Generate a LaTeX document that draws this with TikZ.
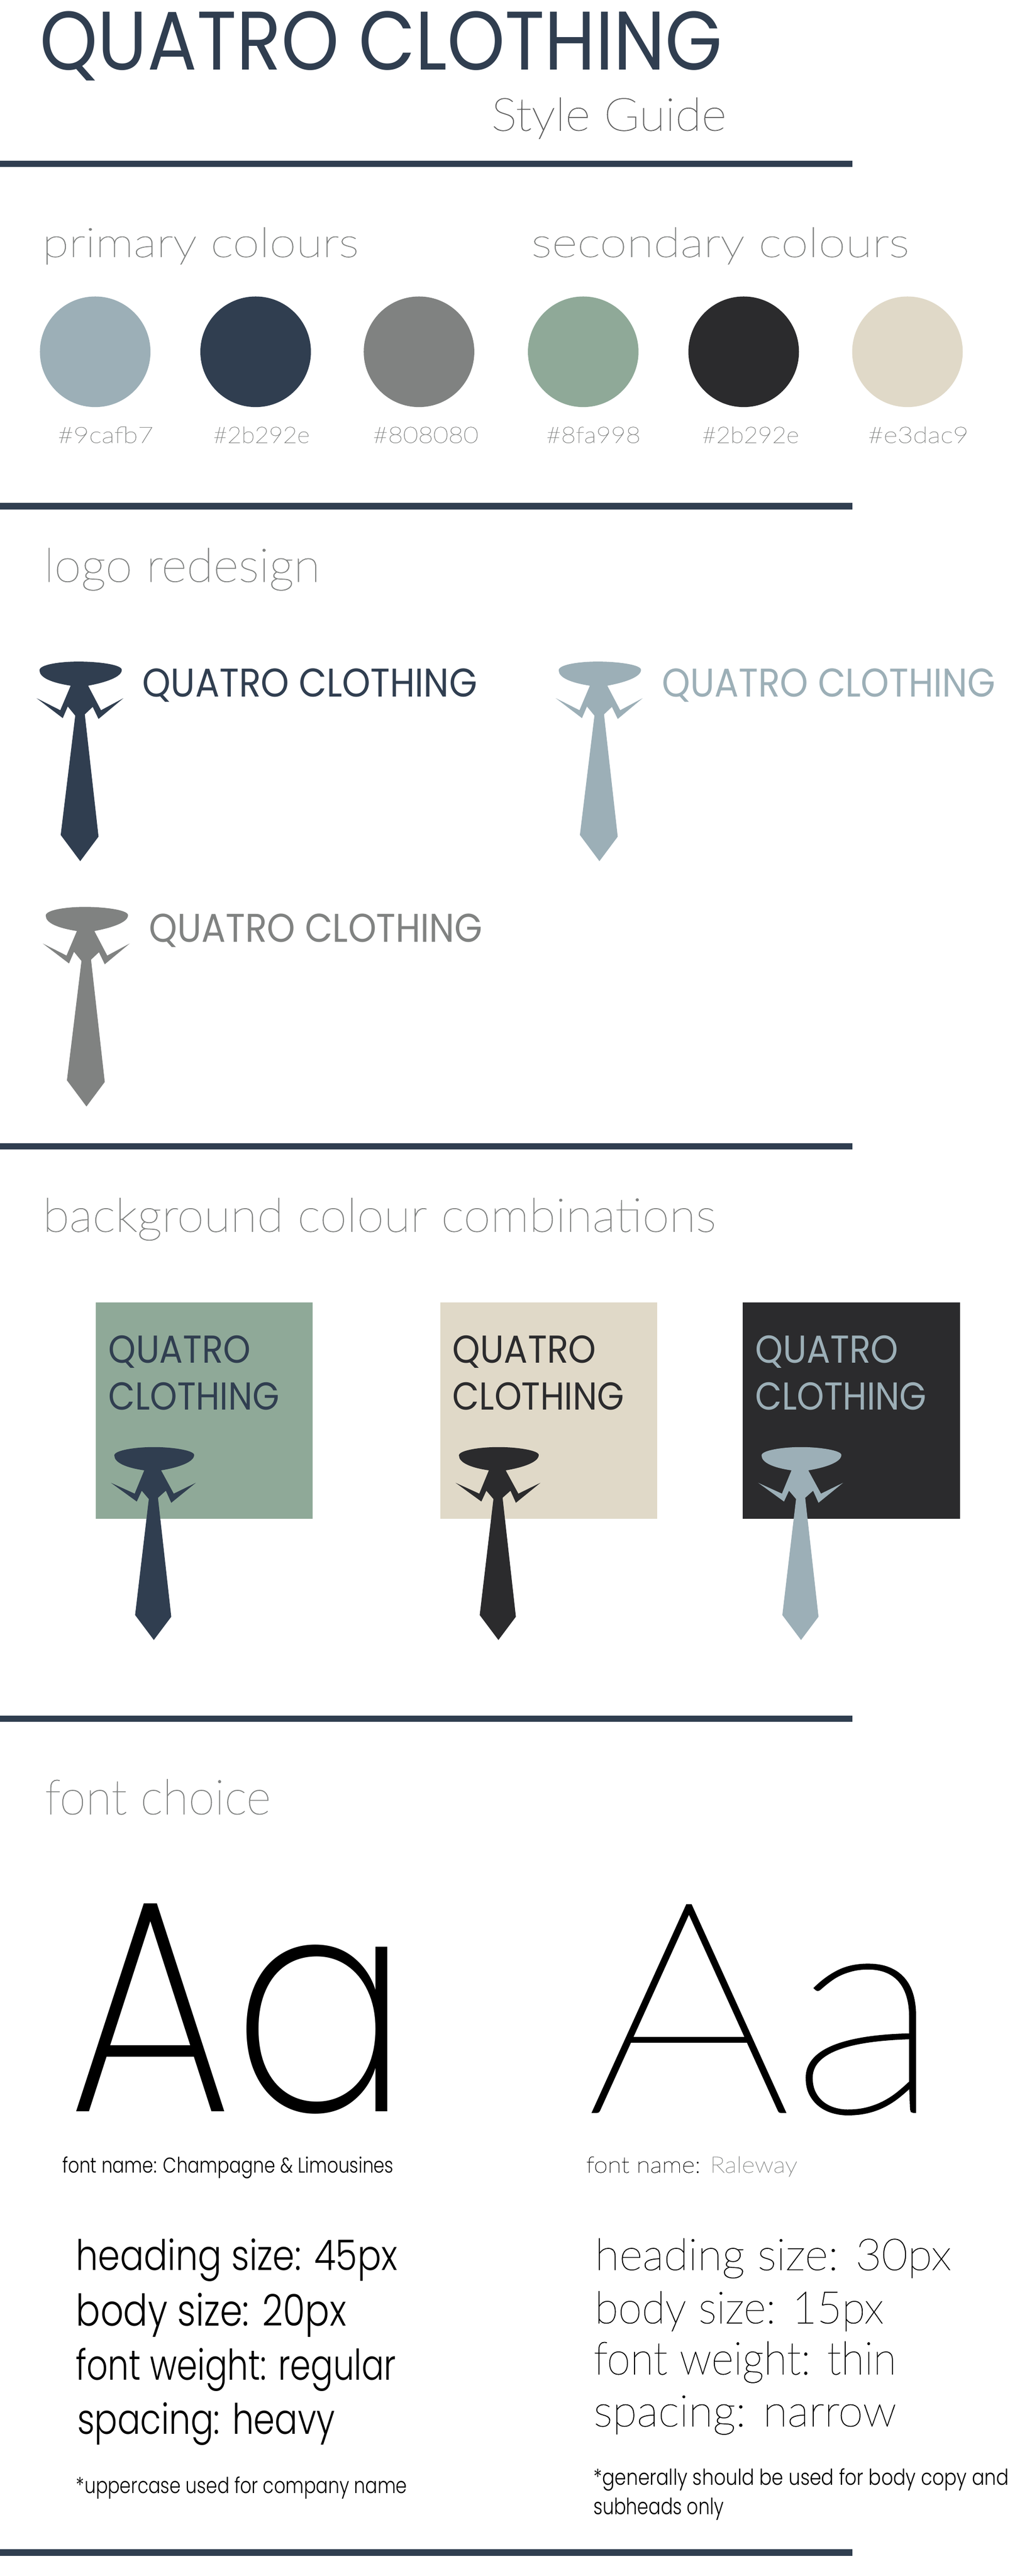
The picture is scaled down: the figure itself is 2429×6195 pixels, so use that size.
\documentclass[tikz,border=0pt]{standalone}
\usepackage{fontspec}
\usepackage{graphicx}
\setmainfont{Poppins}
\newfontfamily\fthin[FakeBold=1]{Lato Hairline}
\newfontfamily\fxl{Poppins ExtraLight}
\newfontfamily\flight{Poppins Light}
\definecolor{navy}{HTML}{303E50}
\definecolor{bluegrey}{HTML}{9CAFB7}
\definecolor{midgrey}{HTML}{808281}
\definecolor{sage}{HTML}{8FA998}
\definecolor{coal}{HTML}{2B2B2D}
\definecolor{sand}{HTML}{E0D9C8}
\definecolor{fadegrey}{HTML}{606060}
\tikzset{
  tx/.style={anchor=base west,inner sep=0pt,outer sep=0pt},
  rulebar/.style={fill=navy,draw=none},
  swatch/.style={circle,draw=none,minimum size=266pt,inner sep=0pt,outer sep=0pt},
  panel/.style={rectangle,draw=none,anchor=north west,minimum width=522pt,minimum height=521pt,inner sep=0pt,outer sep=0pt}
}
% name, font and colour, x, baseline y, width, height, text
\newcommand{\fitnode}[7]{\node[tx] (#1) at (#3,#4) {\resizebox{#5pt}{#6pt}{\fontsize{100}{120}\selectfont #2#7}};}
\newcommand{\thinT}[1]{\fthin\color{#1}\vphantom{d}}
\newcommand{\lightT}{\flight\color{black}\vphantom{d}}
\newcommand{\capsT}[1]{\color{#1}}
\newcommand{\tieA}[3]{\fill[#1,shift={(#2,#3)}] (170,1649) .. controls (125,1642) and (95,1630) .. (95,1612) .. controls (95,1598) and (145,1591) .. (189,1591) .. controls (235,1591) and (293,1598) .. (293,1611) .. controls (293,1628) and (255,1641) .. (212,1649) -- (243,1708) -- (297,1679) -- (237,1729) -- (223,1700) -- (204,1718) -- (237,2012) -- (193,2071) -- (146,2008) -- (181,1721) -- (163,1699) -- (151,1727) -- (88,1679) -- (145,1708) -- cycle;}
\newcommand{\tieB}[3]{\fill[#1,shift={(#2,#3)}] (347,3536) .. controls (305,3530) and (275,3518) .. (275,3500) .. controls (275,3488) and (325,3480) .. (370,3480) .. controls (415,3480) and (467,3488) .. (467,3499) .. controls (467,3516) and (430,3529) .. (387.5,3536) -- (418,3592) -- (471,3566) -- (412,3614) -- (399,3585) -- (380,3602) -- (412,3888) -- (370,3944) -- (325,3884) -- (358,3605) -- (341,3585) -- (329,3611) -- (267,3566) -- (324,3592) -- cycle;}
\begin{document}
\begin{tikzpicture}[x=1pt,y=-1pt]
\useasboundingbox[fill=white] (0,0) rectangle (2429,6195);
% rules
\fill[rulebar] (0,387) rectangle (2050,402);
\fill[rulebar] (0,1209) rectangle (2050,1225);
\fill[rulebar] (0,2749) rectangle (2050,2764);
\fill[rulebar] (0,4126) rectangle (2050,4141);
\fill[rulebar] (0,6130) rectangle (2050,6146);
% title
\fitnode{title}{\capsT{navy}}{96}{168}{1642}{141}{QUATRO CLOTHING}
\fitnode{subtitle}{\thinT{fadegrey}}{1182}{314}{565}{79}{Style Guide}
% colours
\fitnode{primary}{\thinT{midgrey}}{102}{618}{761}{71}{primary colours}
\fitnode{secondary}{\thinT{midgrey}}{1278}{618}{909}{71}{secondary colours}
\node[swatch,fill=bluegrey] (c1) at (229,846) {};
\node[swatch,fill=navy] (c2) at (615,846) {};
\node[swatch,fill=midgrey] (c3) at (1008,846) {};
\node[swatch,fill=sage] (c4) at (1403,846) {};
\node[swatch,fill=coal] (c5) at (1789,846) {};
\node[swatch,fill=sand] (c6) at (2183,846) {};
\fitnode{h1}{\thinT{midgrey}}{139}{1065}{230}{39}{\#9cafb7}
\fitnode{h2}{\thinT{midgrey}}{513}{1065}{232}{39}{\#2b292e}
\fitnode{h3}{\thinT{midgrey}}{897}{1065}{254}{39}{\#808080}
\fitnode{h4}{\thinT{midgrey}}{1314}{1065}{227}{39}{\#8fa998}
\fitnode{h5}{\thinT{midgrey}}{1689}{1065}{233}{39}{\#2b292e}
\fitnode{h6}{\thinT{midgrey}}{2088}{1065}{242}{39}{\#e3dac9}
% logos
\fitnode{logohead}{\thinT{midgrey}}{106}{1399}{664}{81}{logo redesign}
\tieA{navy}{0}{0}
\fitnode{l1}{\capsT{navy}}{343}{1676}{805}{68}{QUATRO CLOTHING}
\tieA{bluegrey}{1249}{0}
\fitnode{l2}{\capsT{bluegrey}}{1593}{1676}{802}{68}{QUATRO CLOTHING}
\tieA{midgrey}{15}{590}
\fitnode{l3}{\capsT{midgrey}}{359}{2266}{802}{68}{QUATRO CLOTHING}
% backgrounds
\fitnode{bghead}{\thinT{midgrey}}{103}{2962}{1619}{81}{background colour combinations}
\node[panel,fill=sage] (p1) at (230,3132) {};
\node[panel,fill=sand] (p2) at (1059,3132) {};
\node[panel,fill=coal] (p3) at (1787,3132) {};
\fitnode{q1}{\capsT{navy}}{261}{3278}{342}{66}{QUATRO}
\fitnode{k1}{\capsT{navy}}{261}{3391}{411}{66}{CLOTHING}
\tieB{navy}{0}{0}
\fitnode{q2}{\capsT{coal}}{1089}{3278}{345}{66}{QUATRO}
\fitnode{k2}{\capsT{coal}}{1089}{3391}{413}{66}{CLOTHING}
\tieB{coal}{829}{0}
\fitnode{q3}{\capsT{bluegrey}}{1817}{3278}{344}{66}{QUATRO}
\fitnode{k3}{\capsT{bluegrey}}{1817}{3391}{412}{66}{CLOTHING}
\tieB{bluegrey}{1557}{0}
% fonts
\fitnode{fonthead}{\thinT{midgrey}}{108}{4363}{543}{84}{font choice}
\fitnode{aa1}{\fxl\color{black}}{164}{5078}{820}{500}{Aa}
\fitnode{aa2}{\fthin\color{black}}{1412}{5078}{855}{495}{Aa}
\fitnode{n1}{\lightT}{150}{5225}{797}{39}{font name: Champagne \& Limousines}
\node[tx] (n2) at (1410,5225) {\resizebox{508pt}{39pt}{\fontsize{100}{120}\selectfont\thinT{black}font name: {\color{midgrey}Raleway}}};
\fitnode{a1}{\lightT}{183}{5459}{773}{76}{heading size: 45px}
\fitnode{a2}{\lightT}{183}{5593}{650}{79}{body size: 20px}
\fitnode{a3}{\lightT}{183}{5724}{770}{77}{font weight: regular}
\fitnode{a4}{\lightT}{186}{5854}{620}{76}{spacing: heavy}
\fitnode{a5}{\lightT}{183}{5996}{796}{40}{*uppercase used for company name}
\fitnode{b1}{\thinT{black}}{1431}{5459}{857}{76}{heading size: 30px}
\fitnode{b2}{\thinT{black}}{1431}{5587}{694}{77}{body size: 15px}
\fitnode{b3}{\thinT{black}}{1428}{5710}{728}{79}{font weight: thin}
\fitnode{b4}{\thinT{black}}{1428}{5835}{728}{76}{spacing: narrow}
\fitnode{b5}{\lightT}{1428}{5976}{999}{40}{*generally should be used for body copy and}
\fitnode{b6}{\lightT}{1428}{6047}{313}{40}{subheads only}
\end{tikzpicture}
\end{document}
